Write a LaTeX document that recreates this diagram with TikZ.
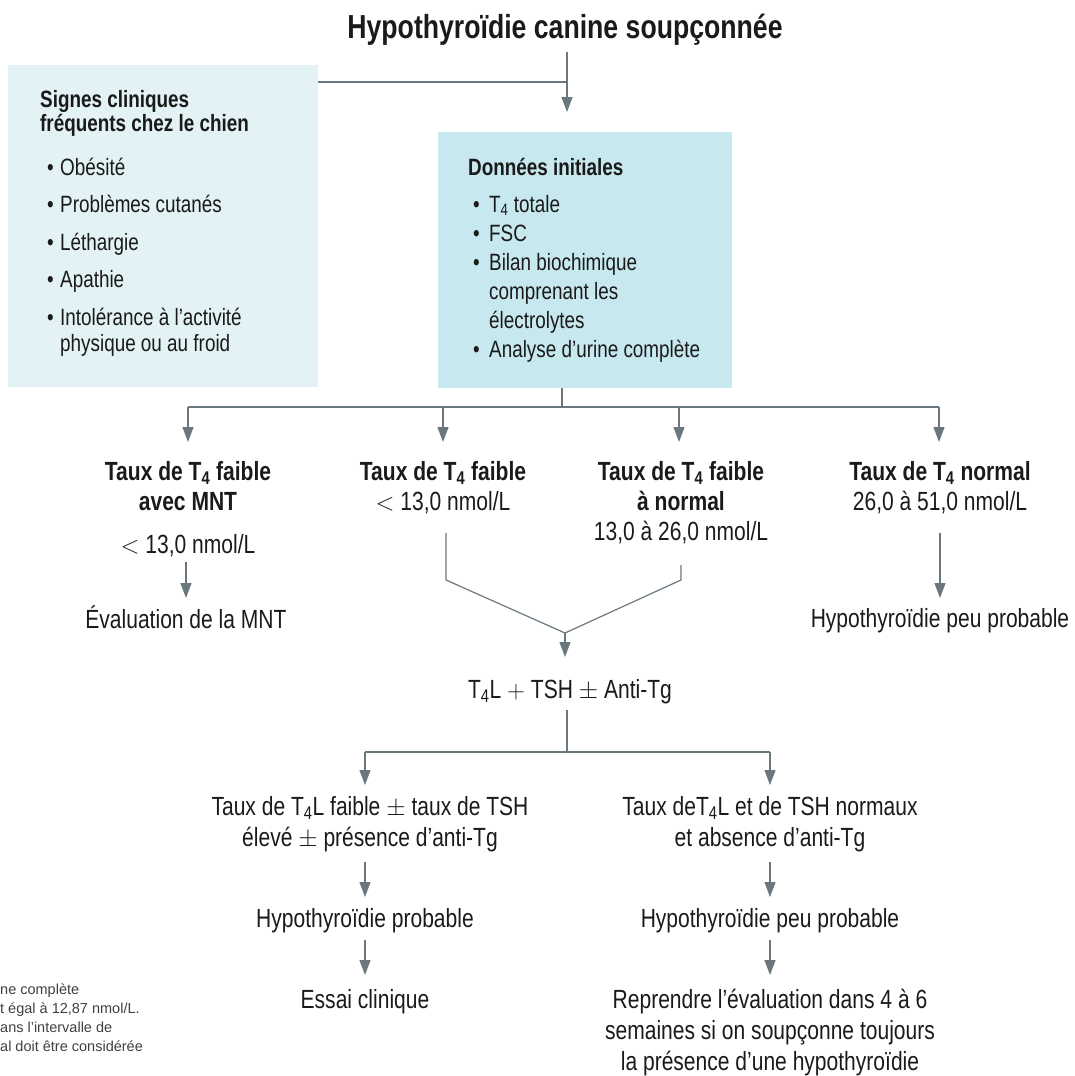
\documentclass[tikz,border=0pt]{standalone}
\usepackage{fontspec}
\setmainfont{Liberation Sans}[FakeStretch=0.80]
\newfontfamily\fnfont{Liberation Sans}
\usetikzlibrary{arrows.meta}
\definecolor{lc}{HTML}{6B777F}
\definecolor{boxA}{HTML}{E3F2F4}
\definecolor{boxB}{HTML}{C7E8EE}
\definecolor{tc}{HTML}{1A1A1A}
\newcommand{\mybulA}{\hspace*{7pt}\makebox[13pt][l]{\textbullet}}
\newcommand{\mycontA}{\hspace*{20pt}}
\newcommand{\mybulB}{\hspace*{5pt}\makebox[16pt][l]{\textbullet}}
\newcommand{\mycontB}{\hspace*{21pt}}
\newcommand{\lvfont}{\fontsize{26.3}{30}\selectfont}
\newcommand{\lvfontb}{\fontsize{26.3}{31}\selectfont}
\begin{document}
\begin{tikzpicture}[x=1pt,y=-1pt,
  conn/.style={draw=lc, line width=1.2pt},
  arr/.style={conn, -{Triangle[length=15pt,width=11pt]}},
  txt/.style={inner sep=0pt, anchor=base, text=tc},
  panel/.style={inner sep=0pt, anchor=north west, draw=none}]
\useasboundingbox (0,0) rectangle (1075,1076);

% title
\node[txt] (title) at (565,38) {\fontsize{33.3}{38}\selectfont\bfseries Hypothyroïdie canine soupçonnée};

% boxes
\node[panel, fill=boxA, minimum width=310pt, minimum height=322pt] (sbox) at (8,65) {};
\node[panel, fill=boxB, minimum width=294pt, minimum height=256pt] (dbox) at (438,132) {};

\node[txt, anchor=base west] (stext) at (40,107) {\fontsize{23.6}{24}\selectfont
 \begin{tabular}[t]{@{}l@{}}
 \bfseries Signes cliniques\\
 \bfseries fréquents chez le chien\\[19pt]
 \mybulA Obésité\\[13pt]
 \mybulA Problèmes cutanés\\[13pt]
 \mybulA Léthargie\\[13pt]
 \mybulA Apathie\\[13pt]
 \mybulA Intolérance à l’activité\\[2pt]
 \mycontA physique ou au froid
 \end{tabular}};

\node[txt, anchor=base west] (dtext) at (468,175) {\fontsize{23.6}{29}\selectfont
 \begin{tabular}[t]{@{}l@{}}
 \bfseries Données initiales\\[8pt]
 \mybulB T\textsubscript{4} totale\\
 \mybulB FSC\\
 \mybulB Bilan biochimique\\
 \mycontB comprenant les\\
 \mycontB électrolytes\\
 \mybulB Analyse d’urine complète
 \end{tabular}};

% top connectors
\coordinate (tj) at (567,82);
\coordinate (ttip) at (567,112);
\draw[conn] (sbox.east |- tj) -- (tj);
\draw[arr, shorten <=7pt] (title.south -| tj) -- (ttip);

% second level
\coordinate (bj) at (562,407);
\coordinate (b1) at (188,407);
\coordinate (b2) at (443,407);
\coordinate (b3) at (679,407);
\coordinate (b4) at (939,407);
\draw[conn] (dbox.south -| bj) -- (bj);
\draw[conn] (b1) -- (b4);
\foreach \c in {b1,b2,b3,b4}{\draw[arr] (\c) -- ([yshift=-35pt]\c);}

\node[txt] (t1) at (188,480) {\lvfont\begin{tabular}[t]{@{}c@{}}
 \bfseries Taux de T\textsubscript{4} faible\\ \bfseries avec MNT\\[13pt] $<$ 13,0 nmol/L\end{tabular}};
\node[txt] (t2) at (443,480) {\lvfont\begin{tabular}[t]{@{}c@{}}
 \bfseries Taux de T\textsubscript{4} faible\\ $<$ 13,0 nmol/L\end{tabular}};
\node[txt] (t3) at (681,480) {\lvfont\begin{tabular}[t]{@{}c@{}}
 \bfseries Taux de T\textsubscript{4} faible\\ \bfseries à normal\\ 13,0 à 26,0 nmol/L\end{tabular}};
\node[txt] (t4) at (940,480) {\lvfont\begin{tabular}[t]{@{}c@{}}
 \bfseries Taux de T\textsubscript{4} normal\\ 26,0 à 51,0 nmol/L\end{tabular}};

% col 1 and col 4 results
\coordinate (c1a) at (186,562);
\coordinate (c1b) at (186,598);
\draw[arr] (c1a) -- (c1b);
\node[txt] (r1) at (186,628) {\lvfont Évaluation de la MNT};
\coordinate (c4a) at (940,533);
\coordinate (c4b) at (940,598);
\draw[arr] (c4a) -- (c4b);
\node[txt] (r4) at (940,627) {\lvfont Hypothyroïdie peu probable};

% merge
\coordinate (m2a) at (446,533);
\coordinate (m2b) at (446,580);
\coordinate (m3a) at (681,565);
\coordinate (m3b) at (681,580);
\coordinate (mj) at (565,633);
\coordinate (mt) at (565,657);
\draw[conn] (m2a) -- (m2b) -- (mj);
\draw[conn] (m3a) -- (m3b) -- (mj);
\draw[arr] (mj) -- (mt);

\node[txt] (ft) at (570,698) {\lvfont T\textsubscript{4}L $+$ TSH $\pm$ Anti-Tg};

% third level
\coordinate (fj0) at (567,710);
\coordinate (fj) at (567,752);
\coordinate (f1) at (365,752);
\coordinate (f2) at (770,752);
\draw[conn] (fj0) -- (fj);
\draw[conn] (f1) -- (f2);
\draw[arr] (f1) -- ([yshift=-33pt]f1);
\draw[arr] (f2) -- ([yshift=-33pt]f2);

\node[txt] (l1) at (370,815) {\lvfontb\begin{tabular}[t]{@{}c@{}}
 Taux de T\textsubscript{4}L faible $\pm$ taux de TSH\\ élevé $\pm$ présence d’anti-Tg\end{tabular}};
\node[txt] (r1b) at (770,815) {\lvfontb\begin{tabular}[t]{@{}c@{}}
 Taux deT\textsubscript{4}L et de TSH normaux\\ et absence d’anti-Tg\end{tabular}};

\coordinate (la1) at (365,862);
\coordinate (la2) at (365,897);
\coordinate (ra1) at (770,862);
\coordinate (ra2) at (770,897);
\draw[arr] (la1) -- (la2);
\draw[arr] (ra1) -- (ra2);

\node[txt] (l2) at (365,927) {\lvfontb Hypothyroïdie probable};
\node[txt] (r2) at (770,927) {\lvfontb Hypothyroïdie peu probable};

\coordinate (lb1) at (365,940);
\coordinate (lb2) at (365,975);
\coordinate (rb1) at (770,940);
\coordinate (rb2) at (770,975);
\draw[arr] (lb1) -- (lb2);
\draw[arr] (rb1) -- (rb2);

\node[txt] (l3) at (365,1008) {\lvfontb Essai clinique};
\node[txt] (r3) at (770,1008) {\lvfontb\begin{tabular}[t]{@{}c@{}}
 Reprendre l’évaluation dans 4 à 6\\ semaines si on soupçonne toujours\\ la présence d’une hypothyroïdie\end{tabular}};

% footnote fragment
\node[txt, anchor=base west, text=black!75] (fn) at (0,994) {\fnfont\fontsize{14.5}{19}\selectfont\begin{tabular}[t]{@{}l@{}}
 ne complète\\ t égal à 12,87 nmol/L.\\ ans l’intervalle de\\ al doit être considérée\end{tabular}};
\end{tikzpicture}
\end{document}
